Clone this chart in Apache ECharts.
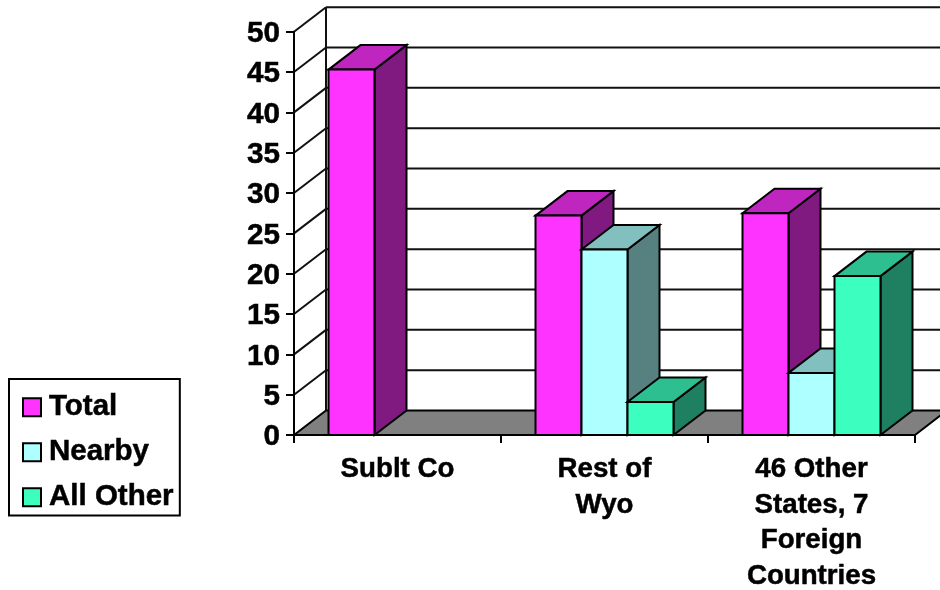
<!DOCTYPE html>
<html>
<head>
<meta charset="utf-8">
<style>html,body{margin:0;padding:0;background:#fff}#chart{width:940px;height:590px}</style>
<script src="https://cdn.jsdelivr.net/npm/echarts@6/dist/echarts.min.js"></script>
</head>
<body>
<div id="chart"></div>
<script>
// Visitor origin by category
var categories = ['Sublt Co', 'Rest of\nWyo', '46 Other\nStates, 7\nForeign\nCountries'];
var total = [45.3, 27.2, 27.5];
var nearby = [null, 23, 7.7];
var allOther = [null, 4.1, 19.7];
var valueTicks = [0, 5, 10, 15, 20, 25, 30, 35, 40, 45, 50];

// Oblique projection of the bar depth and chart walls, in pixels
var DEPTH_X = 32, DEPTH_Y = -24.5;
var FONT = '"Liberation Sans", Arial, sans-serif';

function poly(points, fill, lineWidth) {
  return {
    type: 'polygon',
    shape: { points: points },
    style: { fill: fill, stroke: '#000', lineWidth: lineWidth === undefined ? 2 : lineWidth, lineJoin: 'miter' }
  };
}
function seg(x1, y1, x2, y2) {
  return {
    type: 'line',
    shape: { x1: x1, y1: y1, x2: x2, y2: y2 },
    style: { stroke: '#111', lineWidth: 2 }
  };
}

// Back wall, side wall gridlines and grey floor
function renderWalls(params, api) {
  var v = api.value(0);
  var p = api.coord([0, v]);
  var band = api.size([1, 0])[0];
  var x0 = p[0] - band / 2;
  var x1 = x0 + band * categories.length;
  var y = p[1];
  var children = [];
  if (v === 0) {
    var topY = api.coord([0, valueTicks[valueTicks.length - 1]])[1];
    children.push(poly([[x0, y], [x0 + DEPTH_X, y + DEPTH_Y], [x1 + DEPTH_X, y + DEPTH_Y], [x1, y]], '#808080', 2));
    children.push(seg(x0 + DEPTH_X, y + DEPTH_Y, x0 + DEPTH_X, topY + DEPTH_Y));
  } else {
    children.push(seg(x0, y, x0 + DEPTH_X, y + DEPTH_Y));
    children.push(seg(x0 + DEPTH_X, y + DEPTH_Y, x1 + DEPTH_X, y + DEPTH_Y));
  }
  return { type: 'group', children: children };
}

// One 3D box: front face, top face, side face
function boxRenderer(slot, front, top, side) {
  return function (params, api) {
    var value = api.value(1);
    if (value === null || isNaN(value)) return null;
    var center = api.coord([api.value(0), 0]);
    var head = api.coord([api.value(0), value]);
    var band = api.size([1, 0])[0];
    var w = band * 2 / 9;
    var l = center[0] - band / 2 + band / 6 + slot * w;
    var r = l + w;
    var b = center[1], t = head[1];
    var dx = DEPTH_X, dy = DEPTH_Y;
    return {
      type: 'group',
      children: [
        poly([[r, b], [r + dx, b + dy], [r + dx, t + dy], [r, t]], side),
        poly([[l, t], [l + dx, t + dy], [r + dx, t + dy], [r, t]], top),
        poly([[l, b], [l, t], [r, t], [r, b]], front)
      ]
    };
  };
}

function barSeries(name, values, slot, front, top, side) {
  return {
    name: name,
    type: 'custom',
    clip: false,
    z: 3,
    itemStyle: { color: front },
    renderItem: boxRenderer(slot, front, top, side),
    encode: { x: 0, y: 1 },
    data: values.map(function (v, i) { return [i, v]; })
  };
}

var chart = echarts.init(document.getElementById('chart'), null, { renderer: 'canvas' });
chart.setOption({
  animation: false,
  backgroundColor: '#fff',
  grid: { left: 294, right: 25, top: 31.7, bottom: 155, containLabel: false, outerBoundsMode: 'none' },
  legend: {
    left: 9,
    top: 379,
    orient: 'vertical',
    data: ['Total', 'Nearby', 'All Other'],
    icon: 'rect',
    itemWidth: 18,
    itemHeight: 18,
    itemGap: 14.5,
    padding: [13, 6, 3, 13],
    backgroundColor: '#fff',
    borderColor: '#000',
    borderWidth: 2,
    borderRadius: 0,
    selectedMode: false,
    itemStyle: { borderColor: '#000', borderWidth: 2 },
    textStyle: { fontFamily: FONT, fontWeight: 'bold', fontSize: 29.5, color: '#000', padding: [0, 0, 0, 3], textBorderColor: '#000', textBorderWidth: 0.5 }
  },
  xAxis: {
    type: 'category',
    data: categories,
    z: 5,
    axisLine: { lineStyle: { color: '#000', width: 2 } },
    axisTick: { show: true, alignWithLabel: false, length: 8, lineStyle: { color: '#000', width: 2 } },
    axisLabel: {
      fontFamily: FONT, fontWeight: 'bold', fontSize: 27.7, color: '#000',
      lineHeight: 35.5, margin: 17, interval: 0, textBorderColor: '#000', textBorderWidth: 0.5
    },
    splitLine: { show: false }
  },
  yAxis: {
    type: 'value',
    min: 0,
    max: 50,
    interval: 5,
    z: 5,
    axisLine: { show: true, lineStyle: { color: '#000', width: 2 } },
    axisTick: { show: true, length: 8, lineStyle: { color: '#000', width: 2 } },
    axisLabel: {
      fontFamily: FONT, fontWeight: 'bold', fontSize: 29.7, color: '#000', margin: 14,
      verticalAlign: 'top', lineHeight: 4, textBorderColor: '#000', textBorderWidth: 0.5
    },
    splitLine: { show: false }
  },
  series: [
    {
      name: 'walls',
      type: 'custom',
      clip: false,
      z: 1,
      silent: true,
      renderItem: renderWalls,
      encode: { y: 0 },
      data: valueTicks.map(function (v) { return [v]; })
    },
    barSeries('Total', total, 0, '#FF33FF', '#BF26BF', '#801A80'),
    barSeries('Nearby', nearby, 1, '#AEFFFF', '#82BFBF', '#578080'),
    barSeries('All Other', allOther, 2, '#3CFFBF', '#2DBF8F', '#1E8060')
  ]
});
</script>
</body>
</html>
